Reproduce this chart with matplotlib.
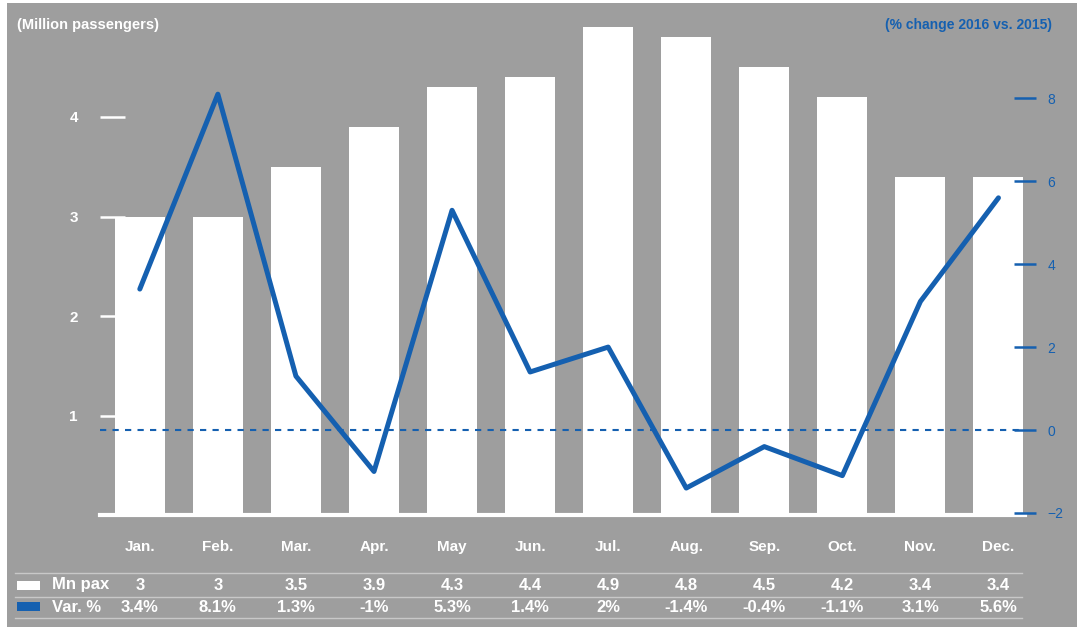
import matplotlib.pyplot as plt
from matplotlib.patches import Rectangle

plt.rcParams['font.family'] = ['Liberation Sans', 'DejaVu Sans']

months = ["Jan.", "Feb.", "Mar.", "Apr.", "May", "Jun.", "Jul.", "Aug.", "Sep.", "Oct.", "Nov.", "Dec."]
mn_pax = [3, 3, 3.5, 3.9, 4.3, 4.4, 4.9, 4.8, 4.5, 4.2, 3.4, 3.4]
var_pct = [3.4, 8.1, 1.3, -1, 5.3, 1.4, 2, -1.4, -0.4, -1.1, 3.1, 5.6]
pax_labels = ["3", "3", "3.5", "3.9", "4.3", "4.4", "4.9", "4.8", "4.5", "4.2", "3.4", "3.4"]
var_labels = ["3.4%", "8.1%", "1.3%", "-1%", "5.3%", "1.4%", "2%", "-1.4%", "-0.4%", "-1.1%", "3.1%", "5.6%"]

bg = "#9e9e9e"
blue = "#1560b0"
W, H = 1081, 630

fig = plt.figure(figsize=(W / 100, H / 100), dpi=100, facecolor="white")
# gray panel
fig.patches.append(Rectangle((7 / W, 3 / H), (1077 - 7) / W, (627 - 3) / H,
                             transform=fig.transFigure, facecolor=bg, edgecolor="none", zorder=-10))

ax = fig.add_axes([100 / W, 115 / H, (1025 - 100) / W, (515 - 17.5) / H])
ax.set_facecolor("none")
x = list(range(len(months)))
ax.bar(x, mn_pax, width=0.64, color="white", zorder=2)
ax.set_xlim(-0.51, 11.34)
ax.set_ylim(0, 5)
for s in ax.spines.values():
    s.set_visible(False)
ax.axhline(0, color="white", lw=3, zorder=3, clip_on=False)
ax.set_yticks([1, 2, 3, 4])
ax.tick_params(axis="y", direction="in", length=18, width=1.8, color="white",
               labelcolor="white", labelsize=11, pad=16)
for t in ax.get_yticklabels():
    t.set_fontweight("bold")
ax.set_xticks(x)
ax.set_xticklabels(months, color="white", fontsize=11, fontweight="bold")
ax.tick_params(axis="x", length=0, pad=18)

ax2 = ax.twinx()
ax2.set_ylim(-2.05, 9.95)
for s in ax2.spines.values():
    s.set_visible(False)
ax2.axhline(0, color=blue, lw=1.5, ls=(0, (3, 3)), zorder=3)
ax2.plot(x, var_pct, color=blue, lw=3.6, zorder=4, solid_joinstyle="round",
         solid_capstyle="round")
ax2.set_yticks([-2, 0, 2, 4, 6, 8])
ax2.tick_params(axis="y", direction="inout", length=16, width=1.8, color=blue,
                labelcolor=blue, labelsize=10, pad=8)

fig.text(17 / W, 1 - 25 / H, "(Million passengers)", color="white", fontsize=10.5,
         fontweight="bold", va="center", ha="left")
fig.text(1052 / W, 1 - 25 / H, "(% change 2016 vs. 2015)", color=blue, fontsize=10,
         fontweight="bold", va="center", ha="right")

# table below the chart
for yl in [573, 597, 618]:
    fig.add_artist(plt.Line2D([15 / W, 1022 / W], [1 - yl / H, 1 - yl / H],
                              transform=fig.transFigure, color="#c8c8c8", lw=1))
fig.patches.append(Rectangle((17 / W, 1 - 590 / H), 23 / W, 9 / H, transform=fig.transFigure,
                             facecolor="white", edgecolor="none"))
fig.patches.append(Rectangle((17 / W, 1 - 611 / H), 23 / W, 9 / H, transform=fig.transFigure,
                             facecolor=blue, edgecolor="none"))
fig.text(52 / W, 1 - 585 / H, "Mn pax", color="white", fontsize=12, fontweight="bold", va="center")
fig.text(52 / W, 1 - 607 / H, "Var. %", color="white", fontsize=12, fontweight="bold", va="center")
for i in x:
    xf = fig.transFigure.inverted().transform(ax.transData.transform((i, 0)))[0]
    fig.text(xf, 1 - 585 / H, pax_labels[i], color="white", fontsize=12, fontweight="bold",
             va="center", ha="center")
    fig.text(xf, 1 - 607 / H, var_labels[i], color="white", fontsize=12, fontweight="bold",
             va="center", ha="center")

fig.savefig("out.png", dpi=100, facecolor="white")
